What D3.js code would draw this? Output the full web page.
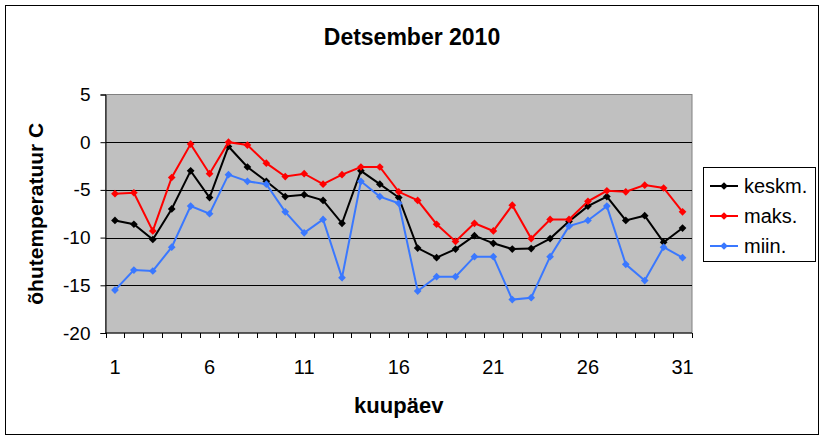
<!DOCTYPE html>
<html>
<head>
<meta charset="utf-8">
<script src="https://cdn.jsdelivr.net/npm/d3@7"></script>
<style>
  body { margin: 0; background: #fff; }
  text { font-family: "Liberation Sans", Arial, sans-serif; fill: #000; }
</style>
</head>
<body>
<div id="chart"></div>
<script>
// days of December 2010
const days = d3.range(1, 32);
const dayLabels = [1, 6, 11, 16, 21, 26, 31];
const yTicks = [5, 0, -5, -10, -15, -20];

const keskm = [-8.2, -8.6, -10.2, -7.0, -3.0, -5.8, -0.45, -2.6, -4.1, -5.7, -5.5, -6.1, -8.5, -3.0, -4.4, -5.8,
  -11.1, -12.1, -11.2, -9.8, -10.6, -11.2, -11.15, -10.1, -8.3, -6.7, -5.7, -8.2, -7.7, -10.5, -9.0];
const maks = [-5.4, -5.3, -9.3, -3.7, -0.2, -3.3, 0.0, -0.3, -2.2, -3.6, -3.3, -4.4, -3.4, -2.6, -2.6, -5.2,
  -6.1, -8.6, -10.4, -8.5, -9.3, -6.6, -10.1, -8.1, -8.1, -6.2, -5.1, -5.2, -4.5, -4.8, -7.3];
const miin = [-15.5, -13.4, -13.5, -11.0, -6.7, -7.5, -3.4, -4.1, -4.4, -7.3, -9.5, -8.1, -14.2, -4.1, -5.7, -6.4,
  -15.6, -14.1, -14.1, -12.0, -12.0, -16.5, -16.3, -12.0, -8.8, -8.2, -6.7, -12.8, -14.5, -11.0, -12.1];

const series = [
  { name: "keskm.", values: keskm, color: "#000000" },
  { name: "maks.", values: maks, color: "#ff0000" },
  { name: "miin.", values: miin, color: "#3a78ff" },
];

const width = 825;
const height = 439;
const plot = { left: 105.5, right: 692, top: 94.5, bottom: 333 };

const svg = d3.select("#chart")
  .append("svg")
  .attr("width", width)
  .attr("height", height);

// outer frame
svg.append("rect")
  .attr("x", 5.5).attr("y", 5.5)
  .attr("width", 813).attr("height", 429)
  .attr("fill", "#fff").attr("stroke", "#000");

const x = d3.scaleBand()
  .domain(days)
  .range([plot.left, plot.right]);

const y = d3.scaleLinear()
  .domain([-20, 5])
  .range([plot.bottom, plot.top]);

// plot area
svg.append("rect")
  .attr("x", plot.left).attr("y", plot.top)
  .attr("width", plot.right - plot.left)
  .attr("height", plot.bottom - plot.top)
  .attr("fill", "#c0c0c0")
  .attr("stroke", "#808080");

// gridlines
svg.append("g")
  .selectAll("line")
  .data(yTicks.filter((d) => d > -20 && d < 5))
  .join("line")
  .attr("x1", plot.left).attr("x2", plot.right)
  .attr("y1", (d) => Math.round(y(d)) + 0.5)
  .attr("y2", (d) => Math.round(y(d)) + 0.5)
  .attr("stroke", "#000");

// y axis (plain hyphen as minus sign, like the original)
const yAxis = svg.append("g")
  .attr("transform", `translate(${plot.left},0)`)
  .call(d3.axisLeft(y).tickValues(yTicks).tickSize(5).tickPadding(10).tickFormat((d) => String(d)));
yAxis.select(".domain").attr("stroke", "#000");
yAxis.selectAll("text")
  .attr("font-size", 19)
  .attr("font-family", "Liberation Sans, Arial, sans-serif");

// x axis: ticks on category boundaries
const xAxis = svg.append("g")
  .attr("transform", `translate(0,${plot.bottom})`);
xAxis.append("line")
  .attr("x1", plot.left).attr("x2", plot.right)
  .attr("stroke", "#000");
xAxis.selectAll(".tick")
  .data(days.concat([32]))
  .join("line")
  .attr("class", "tick")
  .attr("x1", (d) => Math.round(d === 32 ? plot.right : x(d)) + 0.5)
  .attr("x2", (d) => Math.round(d === 32 ? plot.right : x(d)) + 0.5)
  .attr("y1", 0).attr("y2", 5)
  .attr("stroke", "#000");
xAxis.selectAll("text")
  .data(dayLabels)
  .join("text")
  .attr("x", (d) => x(d) + x.bandwidth() / 2)
  .attr("y", 41)
  .attr("text-anchor", "middle")
  .attr("font-size", 20)
  .text((d) => d);

// lines + markers
const line = d3.line()
  .x((d, i) => x(days[i]) + x.bandwidth() / 2)
  .y((d) => y(d));

const diamond = d3.symbol().type(d3.symbolDiamond2).size(38);

series.forEach((s) => {
  svg.append("path")
    .datum(s.values)
    .attr("fill", "none")
    .attr("stroke", s.color)
    .attr("stroke-width", 2)
    .attr("d", line);
  svg.append("g")
    .selectAll("path")
    .data(s.values)
    .join("path")
    .attr("transform", (d, i) => `translate(${x(days[i]) + x.bandwidth() / 2},${y(d)})`)
    .attr("d", diamond)
    .attr("fill", s.color);
});

// titles
svg.append("text")
  .attr("x", 412).attr("y", 45)
  .attr("text-anchor", "middle")
  .attr("font-size", 23).attr("font-weight", "bold")
  .text("Detsember 2010");

svg.append("text")
  .attr("x", (plot.left + plot.right) / 2).attr("y", 413)
  .attr("text-anchor", "middle")
  .attr("font-size", 22).attr("font-weight", "bold")
  .text("kuupäev");

svg.append("text")
  .attr("transform", `translate(43,${(plot.top + plot.bottom) / 2}) rotate(-90)`)
  .attr("text-anchor", "middle")
  .attr("font-size", 21).attr("font-weight", "bold")
  .text("õhutemperatuur C");

// legend
const legend = svg.append("g").attr("transform", "translate(703,167)");
legend.append("rect")
  .attr("x", 0.5).attr("y", 0.5)
  .attr("width", 112).attr("height", 94)
  .attr("fill", "#fff").attr("stroke", "#000");
const item = legend.selectAll("g.item")
  .data(series)
  .join("g")
  .attr("class", "item")
  .attr("transform", (d, i) => `translate(0,${19 + i * 30})`);
item.append("line")
  .attr("x1", 7).attr("x2", 35)
  .attr("stroke", (d) => d.color)
  .attr("stroke-width", 2);
item.append("path")
  .attr("transform", "translate(21,0)")
  .attr("d", diamond)
  .attr("fill", (d) => d.color);
item.append("text")
  .attr("x", 41).attr("y", 7)
  .attr("font-size", 20)
  .text((d) => d.name);
</script>
</body>
</html>
